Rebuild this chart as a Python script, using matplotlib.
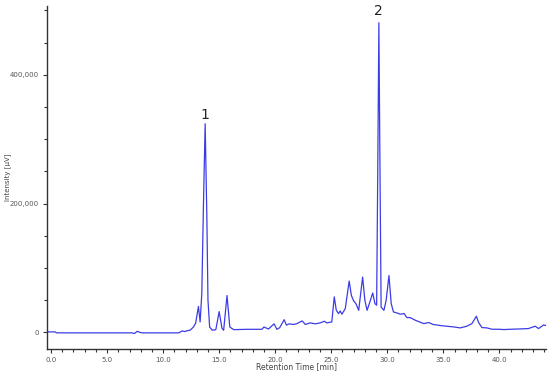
import matplotlib
matplotlib.use('Agg')
import matplotlib.pyplot as plt
from matplotlib.ticker import MultipleLocator, FuncFormatter

# retention time (min) and detector signal (uV)
times = [
    -0.3, 0.35, 0.5, 3.0, 7.2, 7.45, 7.7, 7.95, 8.2, 11.4,
    11.7, 11.9, 12.2, 12.4, 12.7, 12.9, 13.15, 13.3, 13.45, 13.6,
    13.75, 13.9, 14.0, 14.15, 14.4, 14.7, 15.0, 15.25, 15.4, 15.7,
    15.95, 16.3, 17.5, 18.8, 19.0, 19.4, 19.9, 20.15, 20.4, 20.8,
    21.0, 21.25, 21.6, 21.9, 22.4, 22.7, 23.1, 23.6, 24.0, 24.4,
    24.6, 24.9, 25.05, 25.27, 25.45, 25.65, 25.8, 25.95, 26.25, 26.6,
    26.8, 27.0, 27.2, 27.45, 27.8, 28.0, 28.2, 28.4, 28.7, 28.9,
    29.05, 29.15, 29.25, 29.35, 29.45, 29.7, 29.9, 30.15, 30.35, 30.55,
    30.85, 31.15, 31.5, 31.75, 32.05, 32.5, 33.25, 33.7, 34.1, 35.0,
    35.9, 36.5, 37.1, 37.55, 37.95, 38.15, 38.45, 38.9, 39.35, 39.95,
    40.4, 41.0, 41.9, 42.6, 43.2, 43.5, 43.95, 44.15,
]
signal = [
    500, 500, -1000, -1000, -1000, -2000, 1500, -500, -1000, -1000,
    2000, 1000, 2500, 3000, 8000, 14000, 40000, 16000, 60000, 200000,
    324000, 180000, 50000, 8000, 3000, 4000, 32000, 6000, 3000, 57000,
    8000, 4000, 4500, 4500, 8000, 5000, 13000, 4500, 7000, 19500,
    11000, 13000, 12000, 13000, 17500, 12000, 14500, 13000, 14500, 17000,
    14500, 15500, 16000, 55000, 34000, 29000, 33000, 28000, 36500, 79500,
    57000, 48500, 44500, 34000, 85700, 49600, 34000, 44500, 61000, 44500,
    42000, 250000, 481000, 250000, 39000, 34000, 49600, 88000, 44500, 31500,
    30000, 28000, 29000, 22700, 22700, 18600, 13400, 15000, 12000, 9800,
    8300, 6700, 9300, 13400, 24800, 15000, 7200, 6700, 4600, 4600,
    4100, 4600, 5100, 5700, 9300, 5700, 11300, 10400,
]

peak_labels = ['1', '2']
peak_times = [13.75, 29.25]
peak_label_y = [338000, 499000]

fig = plt.figure(figsize=(5.5, 3.74), dpi=100)
ax = fig.add_axes([0.0855, 0.067, 0.908, 0.917])

ax.plot(times, signal, color='#3c3ce6', lw=0.9)

for lab, t, y in zip(peak_labels, peak_times, peak_label_y):
    ax.text(t, y, lab, ha='center', va='center', fontsize=10, color='#222222')

ax.set_xlim(-0.36, 44.2)
ax.set_ylim(-26000, 507000)

ax.spines['top'].set_visible(False)
ax.spines['right'].set_visible(False)
for s in ('left', 'bottom'):
    ax.spines[s].set_color('#333333')
    ax.spines[s].set_linewidth(1.0)

ax.xaxis.set_major_locator(MultipleLocator(5))
ax.xaxis.set_minor_locator(MultipleLocator(1))
ax.yaxis.set_major_locator(MultipleLocator(200000))
ax.yaxis.set_minor_locator(MultipleLocator(50000))
ax.xaxis.set_major_formatter(FuncFormatter(lambda v, p: f'{v:.1f}'))
ax.yaxis.set_major_formatter(FuncFormatter(lambda v, p: f'{int(v):,}'))

ax.tick_params(which='both', direction='out', colors='#333333',
               labelsize=5, labelcolor='#555555', width=0.8)
ax.tick_params(which='major', length=3, pad=3)
ax.tick_params(which='minor', length=2)

ax.set_xlabel('Retention Time [min]', fontsize=5.5, color='#444444', labelpad=-1)
ax.set_ylabel('Intensity [µV]', fontsize=5, color='#444444')
ax.yaxis.set_label_coords(-0.072, 0.5)

fig.savefig('out.png', dpi=100)
